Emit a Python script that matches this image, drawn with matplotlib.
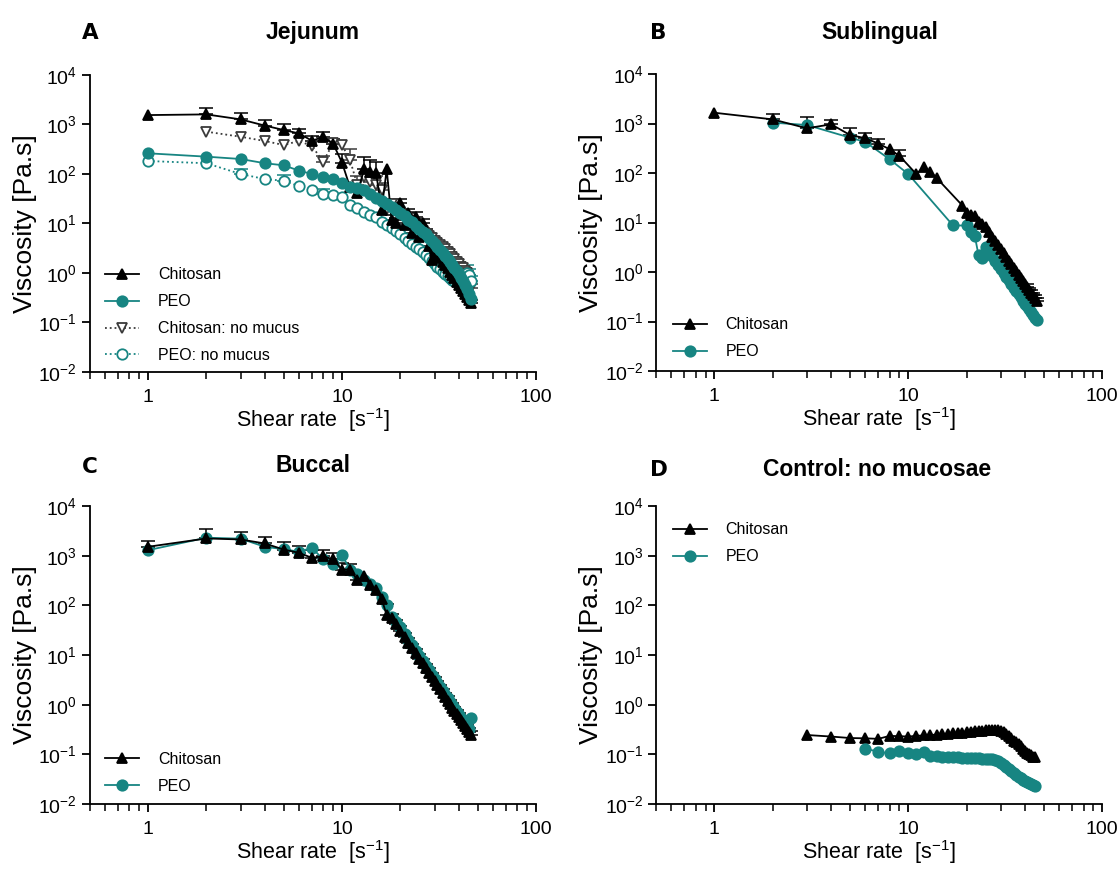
import matplotlib
matplotlib.use("Agg")
import matplotlib.pyplot as plt
import numpy as np
from matplotlib.ticker import FixedLocator, LogLocator, NullLocator

plt.rcParams['font.family'] = ['Liberation Sans', 'DejaVu Sans']
plt.rcParams['mathtext.fontset'] = 'custom'
plt.rcParams['mathtext.rm'] = 'Liberation Sans'
plt.rcParams['mathtext.it'] = 'Liberation Sans:italic'
plt.rcParams['mathtext.bf'] = 'Liberation Sans:bold'

# ---------------- data ----------------
shear_1_46 = [1, 2, 3, 4, 5, 6, 7, 8, 9, 10,
              11, 12, 13, 14, 15, 16, 17, 18, 19, 20,
              21, 22, 23, 24, 25, 26, 27, 28, 29, 30,
              31, 32, 33, 34, 35, 36, 37, 38, 39, 40,
              41, 42, 43, 44, 45, 46]

# Panel A: Jejunum
jej_chitosan = [1550, 1600, 1270, 950, 775, 660, 470, 560, 410, 170,
                54, 41, 124, 111, 103, 19, 124, 12, 10.4, 25.6,
                9.3, 16, 6.3, 13.7, 5.4, 10, 6.3, 3.5, 1.8, 2.8,
                2.3, 2.0, 1.7, 1.45, 1.25, 1.05, 0.9, 0.78, 0.67, 0.58,
                0.5, 0.43, 0.37, 0.32, 0.28, 0.25]
jej_chitosan_err = [0, 510, 405, 300, 250, 150, 120, 145, 107, 88,
                    0, 0, 100, 83, 69, 0, 0, 3, 2.6, 6,
                    2.3, 4, 1.6, 3.4, 1.3, 2.5, 1.5, 0.9, 0.5, 0.6,
                    0.5, 0.4, 0.35, 0.3, 0.25, 0.2, 0.17, 0.15, 0.12, 0.1,
                    0.09, 0.07, 0.06, 0.05, 0.04, 0.03]
jej_peo = [262, 224, 201, 165, 150, 117, 100, 86, 78, 65,
           55, 52, 47, 40, 33, 29, 25, 22, 19, 16.5,
           14, 12, 10.5, 9, 7.8, 6.8, 6, 5.2, 4.5, 3.9,
           3.4, 2.9, 2.5, 2.2, 1.9, 1.65, 1.45, 1.25, 1.1, 0.95,
           0.8, 0.68, 0.57, 0.47, 0.38, 0.3]
jej_chit_nomucus_x = [2, 3, 4, 5, 6, 7, 8, 9, 10,
                      11, 12, 13, 14, 15, 16, 17, 18, 19, 20,
                      21, 22, 23, 24, 25, 26, 27, 28, 29, 30,
                      31, 32, 33, 34, 35, 36, 37, 38, 39, 40,
                      41, 42, 43, 44, 45, 46]
jej_chit_nomucus = [716, 566, 464, 385, 464, 368, 177, 420, 385,
                    192, 60, 88, 70, 60, 47, 20, 25, 20, 17,
                    14, 12, 10.5, 9, 8, 7, 6.2, 5.5, 5, 4.5,
                    4, 3.6, 3.3, 3.0, 2.7, 2.4, 2.1, 1.9, 1.7, 1.5,
                    1.35, 1.25, 1.1, 1.0, 0.8, 0.5]
jej_chit_nomucus_err = [0, 0, 0, 0, 0, 0, 53, 0, 0,
                        128, 30, 0, 40, 30, 20, 5, 6, 4, 3,
                        3, 2.5, 2, 1.5, 1.2, 1, 0.9, 0.8, 0.7, 0.6,
                        0.5, 0.45, 0.4, 0.35, 0.3, 0.25, 0.2, 0.2, 0.2, 0.18,
                        0.16, 0.15, 0.14, 0.12, 0.1, 0.1]
jej_peo_nomucus = [183, 165, 100, 79, 73, 57, 47.5, 39.5, 37.7, 33.8,
                   23.7, 20.3, 17.3, 14.9, 13.3, 10.9, 9.3, 8.0, 7.0, 6.0,
                   5.2, 4.5, 3.9, 3.4, 3.0, 2.6, 2.3, 2.0, 1.75, 1.55,
                   1.35, 1.2, 1.05, 0.95, 0.85, 0.78, 0.72, 0.68, 0.66, 0.66,
                   0.7, 0.78, 0.88, 1.0, 0.9, 0.68]
jej_peo_nomucus_err = [0, 0, 24, 0, 22, 0, 0, 10, 0, 0,
                       0, 0, 0, 0, 0, 0, 0, 0, 0, 0,
                       0, 0, 0, 0, 0, 0, 0, 0, 0, 0,
                       0, 0, 0, 0, 0, 0, 0, 0, 0, 0,
                       0.15, 0.2, 0.3, 0.45, 0.3, 0.2]

# Panel B: Sublingual
sub_chit_x = [1, 2, 3, 4, 5, 6, 7, 8, 9, 11, 12, 13, 14,
              19, 20, 21, 22, 23, 24, 25, 26, 27, 28, 29, 30,
              31, 32, 33, 34, 35, 36, 37, 38, 39, 40,
              41, 42, 43, 44, 45, 46]
sub_chitosan = [1650, 1210, 800, 963, 587, 504, 393, 302, 222, 95, 133, 106, 79,
                22, 15.3, 14.4, 13.8, 10.1, 9.4, 7.96, 6.39, 5.17, 4.22, 3.47, 2.87,
                2.39, 2.0, 1.68, 1.42, 1.21, 1.03, 0.886, 0.763, 0.66, 0.572,
                0.5, 0.435, 0.382, 0.336, 0.296, 0.262]
sub_chitosan_err = [0, 365, 575, 210, 235, 150, 100, 0, 71, 0, 0, 0, 0,
                    0, 0, 0, 0, 0, 0, 0, 0, 0, 0, 0, 0,
                    0, 0, 0, 0, 0, 0, 0, 0, 0, 0,
                    0.06, 0.05, 0.05, 0.04, 0.04, 0.035]
sub_peo_x = [2, 3, 5, 6, 8, 10, 17, 20, 21, 22, 23, 24, 25,
             26, 27, 28, 29, 30, 31, 32, 33, 34, 35, 36, 37,
             38, 39, 40, 41, 42, 43, 44, 45, 46]
sub_peo = [1040, 933, 518, 424, 190, 95, 8.7, 8.7, 6.4, 5.4, 2.2, 1.94, 3.16,
           2.54, 2.06, 1.68, 1.38, 1.15, 0.954, 0.80, 0.674, 0.57, 0.485, 0.415, 0.356,
           0.307, 0.265, 0.23, 0.201, 0.176, 0.154, 0.136, 0.12, 0.106]

# Panel C: Buccal
buc_chitosan = [1510, 2220, 2120, 1760, 1330, 1140, 903, 977, 838, 526,
                526, 320, 385, 253, 201, 136, 63, 55, 41.7, 31,
                23.3, 17.8, 13.8, 10.8, 8.5, 6.76, 5.43, 4.4, 3.59, 2.95,
                2.44, 2.03, 1.70, 1.43, 1.2, 1.02, 0.873, 0.748, 0.643, 0.556,
                0.481, 0.419, 0.365, 0.319, 0.28, 0.247]
buc_chitosan_err = [480, 1300, 910, 640, 570, 430, 425, 312, 268, 190,
                    147, 102, 0, 0, 0, 0, 45, 12, 9, 7,
                    5, 4, 3, 2.4, 1.9, 1.5, 1.2, 1.0, 0.8, 0.65,
                    0.55, 0.45, 0.38, 0.32, 0.27, 0.23, 0.19, 0.16, 0.14, 0.12,
                    0.1, 0.09, 0.08, 0.07, 0.06, 0.05]
buc_peo = [1290, 2300, 2200, 1510, 1350, 1200, 1440, 838, 673, 1023,
           526, 436, 320, 270, 220, 147, 100, 58, 47, 36,
           27, 20.5, 15.8, 12.3, 9.6, 7.6, 6.1, 4.9, 4.0, 3.3,
           2.7, 2.25, 1.9, 1.6, 1.35, 1.15, 0.98, 0.84, 0.72, 0.63,
           0.55, 0.48, 0.42, 0.37, 0.33, 0.55]

# Panel D: Control
ctl_chit_x = [3, 4, 5, 6, 7, 8, 9, 10, 11, 12,
              13, 14, 15, 16, 17, 18, 19, 20, 21, 22,
              23, 24, 25, 26, 27, 28, 29, 30, 31, 32,
              33, 34, 35, 36, 37, 38, 39, 40, 41, 42,
              43, 44, 45]
ctl_chitosan = [0.245, 0.228, 0.213, 0.21, 0.205, 0.235, 0.232, 0.228, 0.236, 0.24,
                0.245, 0.25, 0.255, 0.26, 0.265, 0.27, 0.275, 0.28, 0.285, 0.29,
                0.295, 0.30, 0.305, 0.31, 0.31, 0.31, 0.305, 0.295, 0.28, 0.26,
                0.235, 0.21, 0.187, 0.175, 0.16, 0.145, 0.13, 0.118, 0.108, 0.1,
                0.095, 0.09, 0.088]
ctl_peo_x = [6, 7, 8, 9, 10, 11, 12, 13, 14, 15,
             16, 17, 18, 19, 20, 21, 22, 23, 24, 25,
             26, 27, 28, 29, 30, 31, 32, 33, 34, 35,
             36, 37, 38, 39, 40, 41, 42, 43, 44, 45]
ctl_peo = [0.13, 0.113, 0.104, 0.118, 0.104, 0.1, 0.114, 0.094, 0.092, 0.09,
           0.089, 0.088, 0.087, 0.086, 0.085, 0.084, 0.083, 0.083, 0.082, 0.081,
           0.08, 0.079, 0.077, 0.074, 0.068, 0.061, 0.055, 0.05, 0.046, 0.042,
           0.038, 0.035, 0.033, 0.031, 0.029, 0.028, 0.027, 0.025, 0.024, 0.023]

y_tick_exps = [-2, -1, 0, 1, 2, 3, 4]
x_tick_vals = [1, 10, 100]
x_tick_labels = ['1', '10', '100']

# ---------------- style ----------------
BLACK = '#000000'
TEAL = '#178582'
GREY = '#3a3a3a'
W, H = 1118, 869

fig = plt.figure(figsize=(W / 100, H / 100), dpi=100)


def make_axes(left, right, top, bottom):
    return fig.add_axes([left / W, 1 - bottom / H, (right - left) / W, (bottom - top) / H])


axA = make_axes(89.6, 536, 75, 372)
axB = make_axes(656, 1102.3, 74, 371)
axC = make_axes(89.6, 536, 506, 804)
axD = make_axes(656, 1102.3, 506, 804)


def style(ax):
    ax.set_xscale('log')
    ax.set_yscale('log')
    ax.set_xlim(0.5, 100)
    ax.set_ylim(1e-2, 1e4)
    for s in ['top', 'right']:
        ax.spines[s].set_visible(False)
    for s in ['left', 'bottom']:
        ax.spines[s].set_linewidth(1.3)
    ax.yaxis.set_major_locator(FixedLocator([10.0 ** e for e in y_tick_exps]))
    ax.set_yticklabels([r'$10^{%d}$' % e for e in y_tick_exps])
    ax.yaxis.set_minor_locator(NullLocator())
    ax.xaxis.set_major_locator(FixedLocator(x_tick_vals))
    ax.set_xticklabels(x_tick_labels)
    ax.xaxis.set_minor_locator(LogLocator(base=10, subs=(2, 3, 4, 5, 6, 7, 8, 9)))
    ax.tick_params(which='major', direction='out', length=6, width=1.3, labelsize=14)
    ax.tick_params(axis='x', which='major', pad=6)
    ax.tick_params(axis='y', which='major', pad=3)
    ax.tick_params(which='minor', direction='out', length=5, width=1.1)
    ax.set_xlabel(r'Shear rate  [s$^{-1}$]', fontsize=15.5, labelpad=0.5)
    ax.set_ylabel('Viscosity [Pa.s]', fontsize=19, labelpad=1)


def series(ax, x, y, color, marker, err=None, mfc=None, ls='-', label=None, ms=7.5):
    x = np.asarray(x, float)
    y = np.asarray(y, float)
    if err is not None:
        e = np.asarray(err, float)
        m = e > 0
        ax.errorbar(x[m], y[m], yerr=[np.zeros(m.sum()), e[m]], fmt='none',
                    ecolor=color, elinewidth=1.1, capsize=5, capthick=1.1, zorder=2)
    line, = ax.plot(x, y, color=color, lw=1.3, ls=ls, marker=marker, ms=ms,
                    mfc=mfc if mfc is not None else color, mec=color, mew=1.3,
                    label=label, zorder=3)
    return line


for ax in (axA, axB, axC, axD):
    style(ax)

# Panel A
hA1 = series(axA, shear_1_46, jej_chitosan, BLACK, '^', err=jej_chitosan_err, label='Chitosan')
hA2 = series(axA, shear_1_46, jej_peo, TEAL, 'o', label='PEO')
hA3 = series(axA, jej_chit_nomucus_x, jej_chit_nomucus, GREY, 'v', err=jej_chit_nomucus_err,
             mfc='white', ls=':', label='Chitosan: no mucus')
hA4 = series(axA, shear_1_46, jej_peo_nomucus, TEAL, 'o', err=jej_peo_nomucus_err,
             mfc='white', ls=':', label='PEO: no mucus')
for h in (hA3, hA4):
    h.set_zorder(2.5)

# Panel B
hB1 = series(axB, sub_chit_x, sub_chitosan, BLACK, '^', err=sub_chitosan_err, label='Chitosan')
hB2 = series(axB, sub_peo_x, sub_peo, TEAL, 'o', label='PEO')
hB2.set_zorder(2.8)

# Panel C
hC2 = series(axC, shear_1_46, buc_peo, TEAL, 'o', label='PEO')
hC1 = series(axC, shear_1_46, buc_chitosan, BLACK, '^', err=buc_chitosan_err, label='Chitosan')

# Panel D
hD1 = series(axD, ctl_chit_x, ctl_chitosan, BLACK, '^', label='Chitosan')
hD2 = series(axD, ctl_peo_x, ctl_peo, TEAL, 'o', label='PEO')

leg_kw = dict(frameon=False, fontsize=11.5, handlelength=2.1, handletextpad=1.2,
              labelspacing=0.75, borderpad=0, borderaxespad=0, numpoints=1)
axA.legend(handles=[hA1, hA2, hA3, hA4], loc='lower left', bbox_to_anchor=(0.035, 0.03), **leg_kw)
axB.legend(handles=[hB1, hB2], loc='lower left', bbox_to_anchor=(0.038, 0.04), **leg_kw)
axC.legend(handles=[hC1, hC2], loc='lower left', bbox_to_anchor=(0.035, 0.034), **leg_kw)
axD.legend(handles=[hD1, hD2], loc='upper left', bbox_to_anchor=(0.038, 0.945), **leg_kw)


def ftext(px, py, s, **kw):
    fig.text(px / W, 1 - py / H, s, **kw)


letter_kw = dict(fontsize=15.5, fontweight='heavy', family='DejaVu Sans', va='center', ha='left')
title_kw = dict(fontsize=16.5, fontweight='bold', va='center', ha='center')
ftext(82, 33, 'A', **letter_kw)
ftext(650, 33, 'B', **letter_kw)
ftext(82, 467, 'C', **letter_kw)
ftext(650, 470, 'D', **letter_kw)
ftext(313, 33, 'Jejunum', **title_kw)
ftext(880, 32, 'Sublingual', **title_kw)
ftext(313, 466, 'Buccal', **title_kw)
ftext(877, 470, 'Control: no mucosae', **title_kw)

fig.savefig('out.png', dpi=100)
